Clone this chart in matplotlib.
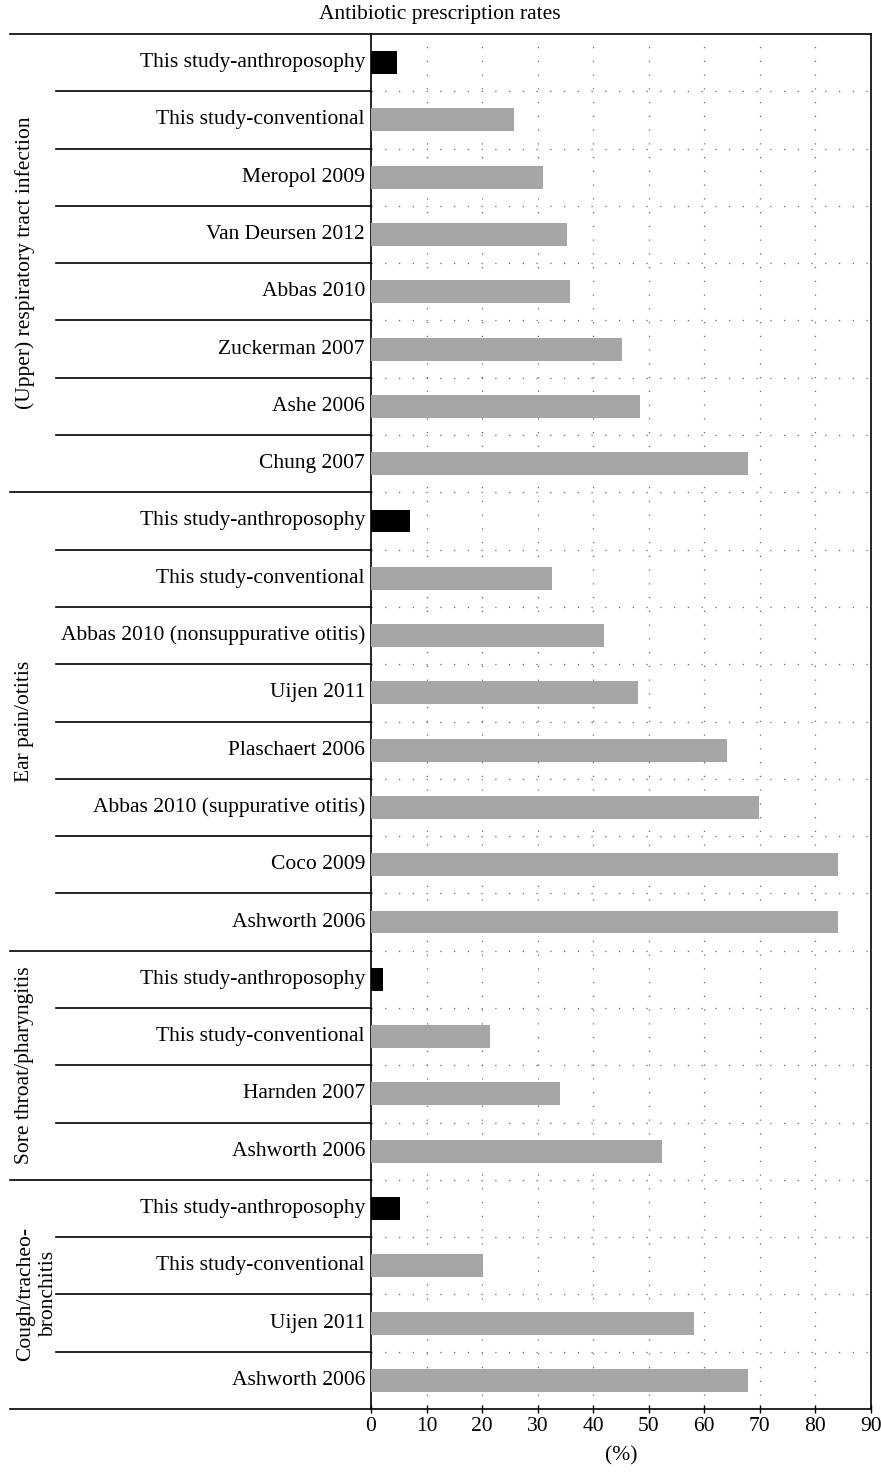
import matplotlib
matplotlib.use("Agg")
import matplotlib.pyplot as plt
from matplotlib.transforms import blended_transform_factory

plt.rcParams['font.family'] = ['Liberation Serif', 'DejaVu Serif']

# data
groups = ["(Upper) respiratory tract infection", "Ear pain/otitis",
          "Sore throat/pharyngitis", "Cough/tracheo-\nbronchitis"]
group_sizes = [8, 8, 4, 4]
studies = [
    "This study-anthroposophy", "This study-conventional", "Meropol 2009",
    "Van Deursen 2012", "Abbas 2010", "Zuckerman 2007", "Ashe 2006", "Chung 2007",
    "This study-anthroposophy", "This study-conventional",
    "Abbas 2010 (nonsuppurative otitis)", "Uijen 2011", "Plaschaert 2006",
    "Abbas 2010 (suppurative otitis)", "Coco 2009", "Ashworth 2006",
    "This study-anthroposophy", "This study-conventional", "Harnden 2007", "Ashworth 2006",
    "This study-anthroposophy", "This study-conventional", "Uijen 2011", "Ashworth 2006",
]
rates = [4.7, 25.7, 31.0, 35.3, 35.8, 45.2, 48.4, 67.9,
         7.0, 32.6, 41.9, 48.1, 64.1, 69.8, 84.1, 84.1,
         2.2, 21.4, 34.0, 52.4,
         5.2, 20.2, 58.1, 67.9]
xticks = list(range(0, 100, 10))

W, H = 881, 1474
fig = plt.figure(figsize=(W / 100, H / 100), dpi=100)
left, right, top, bottom = 371, 871, 34, 1409
ax = fig.add_axes([left / W, 1 - bottom / H, (right - left) / W, (bottom - top) / H])

n = len(studies)
ypos = [i + 0.5 for i in range(n)]
colors = ['#000000' if s == "This study-anthroposophy" else '#a6a6a6' for s in studies]
ax.barh(ypos, rates, height=0.4, color=colors, zorder=3)
ax.set_ylim(n, 0)
ax.set_xlim(0, 90)
ax.set_yticks([])
ax.set_xticks(xticks)
ax.tick_params(axis='x', direction='inout', length=6, width=1, labelsize=15.5, pad=3)
for sp in ax.spines.values():
    sp.set_linewidth(1.2)
ax.spines['top'].set_visible(False)
ax.spines['bottom'].set_visible(False)

# dotted grid
for x in xticks[1:]:
    ax.axvline(x, color='#666666', lw=0.9, ls=(0, (1, 10)), zorder=1)
for y in range(1, n):
    ax.axhline(y, color='#666666', lw=0.9, ls=(0, (1, 10)), zorder=1)

# label table on the left
tr = blended_transform_factory(fig.transFigure, ax.transData)
x_outer = 10 / W
x_inner = 56 / W
bounds = [0]
for g in group_sizes:
    bounds.append(bounds[-1] + g)
for y in range(n + 1):
    if y in (0, n):
        ax.plot([x_outer, right / W], [y, y], color='black', lw=1.2,
                transform=tr, clip_on=False)
    elif y in bounds:
        ax.plot([x_outer, left / W], [y, y], color='black', lw=1.2, transform=tr, clip_on=False)
    else:
        ax.plot([x_inner, left / W], [y, y], color='black', lw=1.2, transform=tr, clip_on=False)

for i, s in enumerate(studies):
    ax.text((left - 6) / W, ypos[i], s, transform=tr, ha='right', va='center', fontsize=15.5)

for g, name in enumerate(groups):
    yc = (bounds[g] + bounds[g + 1]) / 2
    xc = 37 if "\n" in name else 25
    ax.text(xc / W, yc, name, transform=tr, ha='center', va='center', rotation=90,
            fontsize=15.5, linespacing=1.3, multialignment='center')

fig.text(440 / W, 1 - 14 / H, "Antibiotic prescription rates", ha='center', va='center', fontsize=15.5)
ax.set_xlabel("(%)", fontsize=15.5, labelpad=7)

fig.savefig("out.png", dpi=100)
